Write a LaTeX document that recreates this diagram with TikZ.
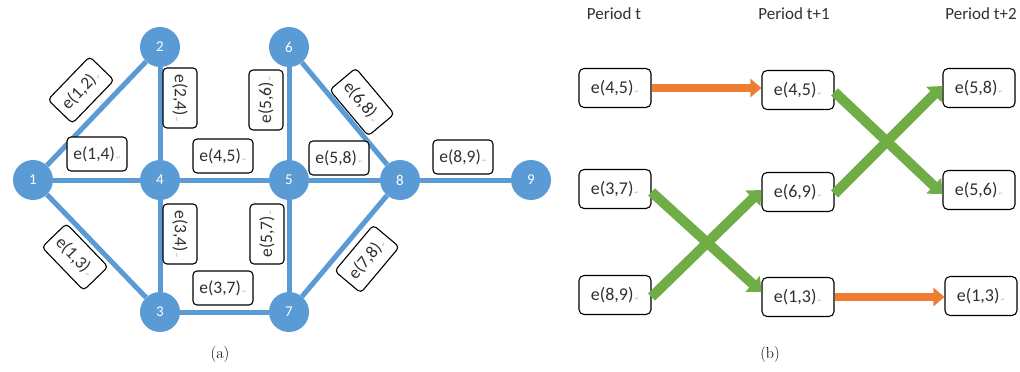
\documentclass[tikz,border=0pt]{standalone}
\usepackage{fontspec}
\setmainfont{Carlito}
\newfontfamily\dejavu{DejaVu Sans}
\newfontfamily\lmroman{Latin Modern Roman}
\usetikzlibrary{arrows.meta}
\definecolor{nblue}{HTML}{5B9BD5}
\definecolor{agreen}{HTML}{70AD47}
\definecolor{aorange}{HTML}{ED7D31}
\definecolor{tgray}{HTML}{303030}
\newcommand\retmk{\hspace{1.5pt}{\dejavu\fontsize{5}{5}\selectfont\color{gray!70}↵}}
\begin{document}
\begin{tikzpicture}[x=1pt,y=-1pt,
  vert/.style={circle,fill=nblue,text=white,minimum size=40pt,inner sep=0pt,font=\fontsize{15}{15}\selectfont},
  edge/.style={nblue,line width=5pt},
  lab/.style={draw=black,line width=1.1pt,rounded corners=4pt,fill=white,minimum width=60pt,minimum height=34pt,inner sep=2pt,text=tgray,font=\fontsize{17.5}{17.5}\selectfont},
  pbox/.style={draw=black,line width=1.1pt,rounded corners=5pt,fill=white,minimum width=72pt,minimum height=39pt,inner sep=2pt,text=tgray,font=\fontsize{18}{18}\selectfont},
  ptitle/.style={text=tgray,font=\fontsize{17}{17}\selectfont},
  garr/.style={agreen,line width=10pt,-{Triangle[length=12pt,width=21pt]}},
  oarr/.style={aorange,line width=8pt,-{Triangle[length=11pt,width=18pt]}},
  capt/.style={font=\lmroman\fontsize{16}{16}\selectfont}]
\useasboundingbox (0,0) rectangle (1020,372);
% vertices
\node[vert] (n1) at (33,180) {1};
\node[vert] (n2) at (160,47) {2};
\node[vert] (n4) at (160,180) {4};
\node[vert] (n6) at (289,47) {6};
\node[vert] (n5) at (289,180) {5};
\node[vert] (n8) at (400,180) {8};
\node[vert] (n9) at (531,180) {9};
\node[vert] (n3) at (160,312) {3};
\node[vert] (n7) at (289,312) {7};
% edges
\draw[edge] (n1) -- (n2);
\draw[edge] (n1) -- (n4);
\draw[edge] (n1) -- (n3);
\draw[edge] (n2) -- (n4);
\draw[edge] (n4) -- (n5);
\draw[edge] (n4) -- (n3);
\draw[edge] (n3) -- (n7);
\draw[edge] (n5) -- (n6);
\draw[edge] (n5) -- (n7);
\draw[edge] (n5) -- (n8);
\draw[edge] (n6) -- (n8);
\draw[edge] (n7) -- (n8);
\draw[edge] (n8) -- (n9);
% edge labels
\node[lab,rotate=46] (l12) at (81,90) {e(1,2)\retmk};
\node[lab] (l14) at (97,154) {e(1,4)\retmk};
\node[lab,rotate=-90] (l24) at (180,98) {e(2,4)\retmk};
\node[lab] (l45) at (223,156) {e(4,5)\retmk};
\node[lab,rotate=90] (l56) at (266,100) {e(5,6)\retmk};
\node[lab,rotate=-50] (l68) at (362,102) {e(6,8)\retmk};
\node[lab] (l58) at (339,158) {e(5,8)\retmk};
\node[lab] (l89) at (463,157) {e(8,9)\retmk};
\node[lab,rotate=-46] (l13) at (75,257) {e(1,3)\retmk};
\node[lab,rotate=-90] (l34) at (180,234) {e(3,4)\retmk};
\node[lab,rotate=90] (l57) at (267,234) {e(5,7)\retmk};
\node[lab] (l37) at (223,288) {e(3,7)\retmk};
\node[lab,rotate=50] (l78) at (367,259) {e(7,8)\retmk};
\node[capt] (ca) at (220,355) {(a)};
% right panel
\node[ptitle] (pt0) at (614,14) {Period t};
\node[ptitle] (pt1) at (794,14) {Period t+1};
\node[ptitle] (pt2) at (981,14) {Period t+2};
\node[pbox] (a45) at (615,88) {e(4,5)\retmk};
\node[pbox] (a37) at (615,189) {e(3,7)\retmk};
\node[pbox] (a89) at (615,295) {e(8,9)\retmk};
\node[pbox] (b45) at (798,90) {e(4,5)\retmk};
\node[pbox] (b69) at (798,192) {e(6,9)\retmk};
\node[pbox] (b13) at (798,297) {e(1,3)\retmk};
\node[pbox] (c58) at (979,88) {e(5,8)\retmk};
\node[pbox] (c56) at (979,190) {e(5,6)\retmk};
\node[pbox] (c13) at (981,296) {e(1,3)\retmk};
\draw[oarr] (a45.east) -- (b45.west |- a45.east);
\draw[oarr] (b13.east) -- (c13.west |- b13.east);
\draw[garr] ([yshift=-3pt]a37.east) -- ([yshift=5pt]b13.west);
\draw[garr] ([yshift=-2pt]a89.east) -- ([yshift=2pt]b69.west);
\draw[garr] ([yshift=-2pt]b45.east) -- ([yshift=-4pt]c56.west);
\draw[garr] ([yshift=-2pt]b69.east) -- ([yshift=2pt]c58.west);
\node[capt] (cb) at (770,355) {(b)};
\end{tikzpicture}
\end{document}
